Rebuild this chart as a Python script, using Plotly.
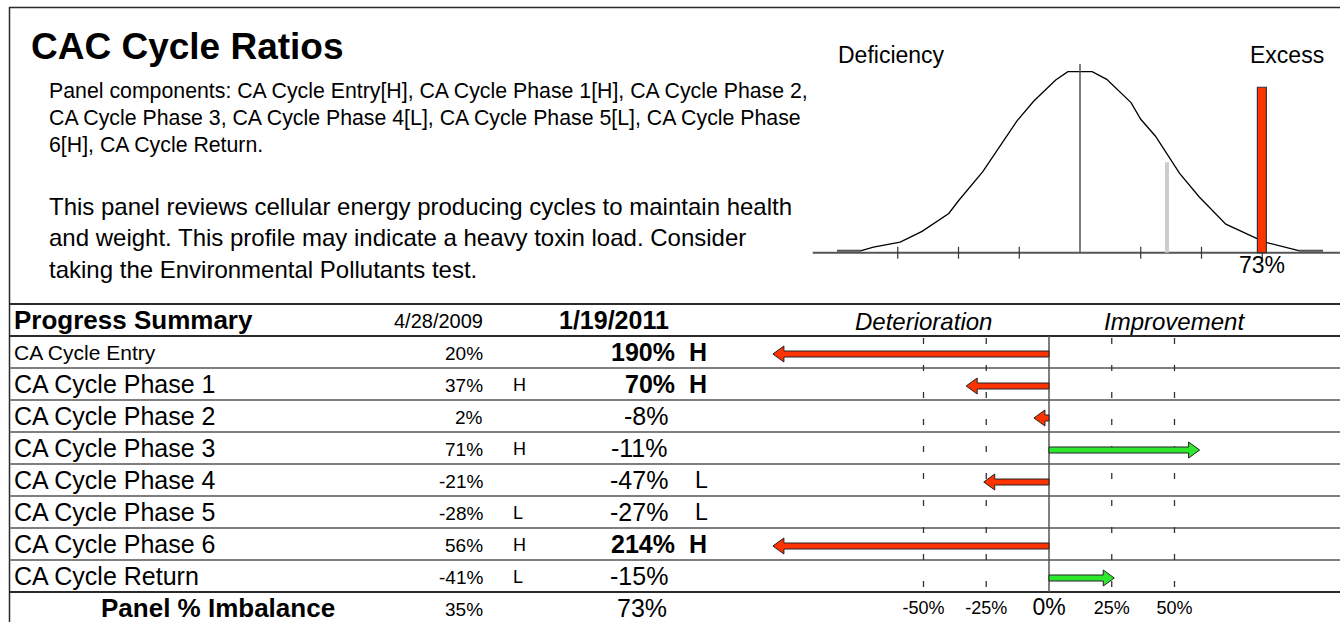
import plotly.graph_objects as go

W, H = 1340, 622
FONT = "Liberation Sans, Arial, Helvetica, sans-serif"

# ---------------- data ----------------
components = ["CA Cycle Entry", "CA Cycle Phase 1", "CA Cycle Phase 2", "CA Cycle Phase 3",
              "CA Cycle Phase 4", "CA Cycle Phase 5", "CA Cycle Phase 6", "CA Cycle Return"]
prev_date = "4/28/2009"
curr_date = "1/19/2011"
prev_values = [20, 37, 2, 71, -21, -28, 56, -41]
prev_flags = ["", "H", "", "H", "", "L", "H", "L"]
curr_values = [190, 70, -8, -11, -47, -27, 214, -15]
curr_flags = ["H", "H", "", "", "L", "L", "H", ""]
prev_imbalance = 35
curr_imbalance = 73

# reference distribution outline: deviation (%) and relative height
curve_x = [-100, -90, -85, -74, -65, -54, -50, -40, -26, -19, -10, -5,
           5, 11, 21, 25, 31, 41, 49, 60, 76, 90, 100]
curve_y = [0.011, 0.011, 0.031, 0.059, 0.118, 0.217, 0.287, 0.448, 0.727, 0.838, 0.954, 1.0,
           1.0, 0.958, 0.829, 0.737, 0.645, 0.438, 0.309, 0.158, 0.059, 0.011, 0.011]
curve_ticks = [-75, -50, -25, 0, 25, 50, 75]
change_ticks = [-50, -25, 0, 25, 50]

title = "CAC Cycle Ratios"
components_lines = [
    "Panel components: CA Cycle Entry[H], CA Cycle Phase 1[H], CA Cycle Phase 2,",
    "CA Cycle Phase 3, CA Cycle Phase 4[L], CA Cycle Phase 5[L], CA Cycle Phase",
    "6[H], CA Cycle Return.",
]
summary_lines = [
    "This panel reviews cellular energy producing cycles to maintain health",
    "and weight. This profile may indicate a heavy toxin load. Consider",
    "taking the Environmental Pollutants test.",
]

# change since the previous test: shrinking imbalance is an improvement
changes = [abs(p) - abs(c) for p, c in zip(prev_values, curr_values)]
CHANGE_CAP = 110
MIN_SHOWN = 5

# ---------------- layout geometry ----------------
ROW_TOP = 336
ROW_H = 32
LINE_DARK = "#2a2a2a"
LINE_MID = "#555555"

# change axis: pixel = 1049 + 2.51 * pct ; curve axis: pixel = 1080 + 2.43 * pct
CH_PX0, CH_K = 1049, 2.51
CV_PX0, CV_K = 1080, 2.43
CV_BASE, CV_HPX = 252.7, 181.0
BAR_W = 3.7  # current-imbalance bar width, in percent units

fig = go.Figure()

# curve
fig.add_trace(go.Scatter(x=curve_x, y=curve_y, mode="lines", xaxis="x3", yaxis="y3",
                         line=dict(color="black", width=1.3), hoverinfo="skip", showlegend=False))
# flat tails of the curve
for tail in ((curve_x[0], curve_x[1]), (curve_x[-2], curve_x[-1])):
    fig.add_trace(go.Scatter(x=list(tail), y=[curve_y[0], curve_y[0]], mode="lines",
                             xaxis="x3", yaxis="y3", line=dict(color="#555555", width=2),
                             hoverinfo="skip", showlegend=False))

# tick labels of the change scale
fig.add_trace(go.Scatter(
    x=change_ticks, y=[609] * len(change_ticks), xaxis="x2", yaxis="y", mode="text",
    text=[f"{t}%" for t in change_ticks],
    textfont=dict(family=FONT, size=[18 if t else 23 for t in change_ticks], color="black"),
    textposition="middle center", hoverinfo="skip", showlegend=False))

shapes = []
ann = []


def line(x0, y0, x1, y1, color=LINE_MID, width=1.5, xref="x", yref="y", dash=None):
    d = dict(type="line", x0=x0, y0=y0, x1=x1, y1=y1, xref=xref, yref=yref,
             line=dict(color=color, width=width))
    if dash:
        d["line"]["dash"] = dash
    shapes.append(d)


def text(x, y, s, size, anchor="left", bold=False, italic=False, xref="x", yref="y"):
    if bold:
        s = f"<b>{s}</b>"
    if italic:
        s = f"<i>{s}</i>"
    ann.append(dict(x=x, y=y, xref=xref, yref=yref, text=s, showarrow=False,
                    xanchor=anchor, yanchor="middle",
                    font=dict(family=FONT, size=size, color="black")))


# frame
line(9.5, 7, 9.5, H, color=LINE_DARK, width=1.5)
line(9, 7.5, W, 7.5, color=LINE_DARK, width=1.5)

# table rules
for i in range(len(components) + 2):
    y = 304 + ROW_H * i
    dark = i in (0, 1, len(components) + 1)
    line(9, y, W, y, color=LINE_DARK if dark else LINE_MID, width=2 if dark else 1.5)

# heading texts
text(29, 46, title, 37, bold=True)
for k, s in enumerate(components_lines):
    text(47, 91 + 27 * k, s, 21.3)
for k, s in enumerate(summary_lines):
    text(47, 206 + 31.5 * k, s, 24)
text(891, 55, "Deficiency", 23, anchor="center")
text(1287, 55, "Excess", 23, anchor="center")

# ---------------- distribution panel ----------------
line(-110, 0, 110, 0, color=LINE_MID, width=2, xref="x3", yref="y3")
for t in curve_ticks:
    if t == 0:
        line(0, 0, 0, (CV_BASE - 64) / CV_HPX, color=LINE_MID, width=1.5, xref="x3", yref="y3")
    else:
        line(t, -0.033, t, 0.033, color="#333333", width=1.2, xref="x3", yref="y3")
# previous imbalance marker
line(prev_imbalance + 0.8, 0, prev_imbalance + 0.8, 0.5, color="#cccccc", width=4, xref="x3", yref="y3")
# current imbalance bar
shapes.append(dict(type="rect", xref="x3", yref="y3", x0=curr_imbalance, x1=curr_imbalance + BAR_W,
                   y0=0, y1=0.914, fillcolor="#ff3300", line=dict(color="#333333", width=1.2)))
text(curr_imbalance + BAR_W / 2, 265, f"{curr_imbalance}%", 23, anchor="center", xref="x3", yref="y")

# ---------------- progress table ----------------
text(12, 320, "Progress Summary", 26, bold=True)
text(485, 321, prev_date, 20, anchor="right")
text(671, 320, curr_date, 25, anchor="right", bold=True)
text(-50, 321, "Deterioration", 24, anchor="center", italic=True, xref="x2")
text(50, 321, "Improvement", 24, anchor="center", italic=True, xref="x2")

for i, name in enumerate(components):
    yc = ROW_TOP + ROW_H * i + ROW_H / 2
    text(12, yc, name, 21 if i == 0 else 25)
    text(485, yc + 1, f"{prev_values[i]}%", 19, anchor="right")
    if prev_flags[i]:
        text(511, yc + 1, prev_flags[i], 18)
    strong = abs(curr_values[i]) >= 50
    if strong:
        text(677, yc, f"{curr_values[i]}%", 25, anchor="right", bold=True)
        text(687, yc, curr_flags[i], 25, bold=True)
    else:
        text(670, yc, f"{curr_values[i]}%", 25, anchor="right")
        if curr_flags[i]:
            text(693, yc, curr_flags[i], 23)

yb = ROW_TOP + ROW_H * len(components) + 16
text(218, yb, "Panel % Imbalance", 26, anchor="center", bold=True)
text(485, yb + 1, f"{prev_imbalance}%", 19, anchor="right")
text(669, yb, f"{curr_imbalance}%", 25, anchor="right")

# change grid
table_bottom = ROW_TOP + ROW_H * len(components)
for t in change_ticks:
    if t == 0:
        line(0, ROW_TOP, 0, table_bottom, color=LINE_MID, width=1.5, xref="x2")
    else:
        line(t, ROW_TOP + 2, t, table_bottom, color="#333333", width=1.3, xref="x2", dash="6px,21px")

# change arrows
HEAD_PX, SHAFT_HALF, HEAD_HALF = 11, 3, 8
for i, ch in enumerate(changes):
    if abs(ch) < MIN_SHOWN:
        continue
    v = max(-CHANGE_CAP, min(CHANGE_CAP, ch))
    s = 1 if v > 0 else -1
    head = min(HEAD_PX / CH_K, abs(v))
    hb = v - s * head
    yc = ROW_TOP + ROW_H * i + ROW_H / 2 + 2
    path = (f"M 0,{yc - SHAFT_HALF} L {hb},{yc - SHAFT_HALF} L {hb},{yc - HEAD_HALF} "
            f"L {v},{yc} L {hb},{yc + HEAD_HALF} L {hb},{yc + SHAFT_HALF} L 0,{yc + SHAFT_HALF} Z")
    shapes.append(dict(type="path", path=path, xref="x2", yref="y",
                       fillcolor="#2ee82e" if v > 0 else "#ff3300",
                       line=dict(color="#222222", width=1)))


def px_range(px0, px1, origin, k):
    return [(px0 - origin) / k, (px1 - origin) / k]


hidden = dict(visible=False, showgrid=False, zeroline=False, fixedrange=True)
fig.update_layout(
    width=W, height=H, autosize=False,
    margin=dict(l=0, r=0, t=0, b=0, pad=0),
    paper_bgcolor="white", plot_bgcolor="rgba(0,0,0,0)",
    showlegend=False,
    xaxis=dict(domain=[0, 1], range=[0, W], **hidden),
    yaxis=dict(domain=[0, 1], range=[H, 0], **hidden),
    xaxis2=dict(domain=[700 / W, 1], range=px_range(700, W, CH_PX0, CH_K), anchor="y", **hidden),
    xaxis3=dict(domain=[800 / W, 1], range=px_range(800, W, CV_PX0, CV_K), anchor="y3", **hidden),
    yaxis3=dict(domain=[1 - 260 / H, 1 - 60 / H],
                range=[(CV_BASE - 260) / CV_HPX, (CV_BASE - 60) / CV_HPX], anchor="x3", **hidden),
    shapes=shapes,
    annotations=ann,
)

fig.write_html("out.html", config={"displayModeBar": False, "staticPlot": True})
